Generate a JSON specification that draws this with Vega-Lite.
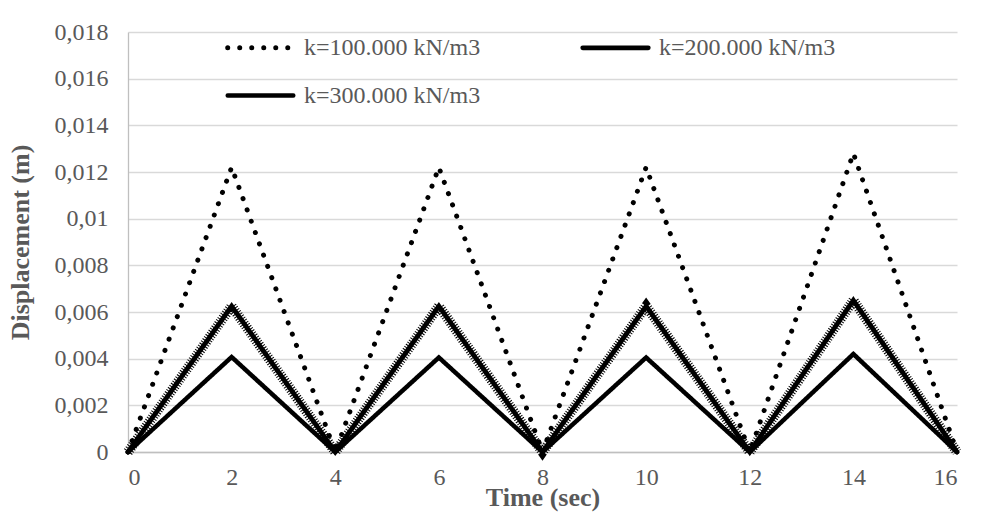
{
  "$schema": "https://vega.github.io/schema/vega-lite/v6.json",
  "autosize": {"type": "none"},
  "width": 829,
  "height": 420,
  "padding": {"left": 128, "top": 32, "right": 32, "bottom": 60},
  "background": "white",
  "config": {
    "view": {"stroke": null},
    "font": "Liberation Serif",
    "axis": {"labelFont": "Liberation Serif", "titleFont": "Liberation Serif", "labelColor": "#595959", "titleColor": "#595959", "labelFontSize": 24, "titleFontSize": 26, "domainColor": "#bfbfbf", "gridColor": "#d9d9d9", "gridWidth": 1.3, "domainWidth": 1.3, "ticks": false}
  },
  "data": {"values": [
    {"t": 0, "d": 0, "s": "k=100.000 kN/m3"},
    {"t": 2, "d": 0.0122, "s": "k=100.000 kN/m3"},
    {"t": 4, "d": 0, "s": "k=100.000 kN/m3"},
    {"t": 6, "d": 0.0122, "s": "k=100.000 kN/m3"},
    {"t": 8, "d": 0, "s": "k=100.000 kN/m3"},
    {"t": 10, "d": 0.0122, "s": "k=100.000 kN/m3"},
    {"t": 12, "d": 0, "s": "k=100.000 kN/m3"},
    {"t": 14, "d": 0.0128, "s": "k=100.000 kN/m3"},
    {"t": 16, "d": 0, "s": "k=100.000 kN/m3"},
    {"t": 0, "d": 0, "s": "k=200.000 kN/m3"},
    {"t": 2, "d": 0.00625, "s": "k=200.000 kN/m3"},
    {"t": 4, "d": 0, "s": "k=200.000 kN/m3"},
    {"t": 6, "d": 0.00625, "s": "k=200.000 kN/m3"},
    {"t": 8, "d": 0, "s": "k=200.000 kN/m3"},
    {"t": 10, "d": 0.00625, "s": "k=200.000 kN/m3"},
    {"t": 12, "d": 0, "s": "k=200.000 kN/m3"},
    {"t": 14, "d": 0.0065, "s": "k=200.000 kN/m3"},
    {"t": 16, "d": 0, "s": "k=200.000 kN/m3"},
    {"t": 0, "d": 0, "s": "k=300.000 kN/m3"},
    {"t": 2, "d": 0.00407, "s": "k=300.000 kN/m3"},
    {"t": 4, "d": 0, "s": "k=300.000 kN/m3"},
    {"t": 6, "d": 0.00405, "s": "k=300.000 kN/m3"},
    {"t": 8, "d": 0, "s": "k=300.000 kN/m3"},
    {"t": 10, "d": 0.00405, "s": "k=300.000 kN/m3"},
    {"t": 12, "d": 0, "s": "k=300.000 kN/m3"},
    {"t": 14, "d": 0.0042, "s": "k=300.000 kN/m3"},
    {"t": 16, "d": 0, "s": "k=300.000 kN/m3"}
  ]},
  "encoding": {
    "x": {"field": "t", "type": "quantitative", "scale": {"domain": [0, 16], "nice": false}, "axis": {"values": [0, 2, 4, 6, 8, 10, 12, 14, 16], "grid": false, "labelPadding": 13, "title": "Time (sec)", "titleFontWeight": "bold", "titlePadding": -5}},
    "y": {"field": "d", "type": "quantitative", "scale": {"domain": [0, 0.018], "nice": false}, "axis": {"values": [0, 0.002, 0.004, 0.006, 0.008, 0.01, 0.012, 0.014, 0.016, 0.018], "labelExpr": "replace(format(datum.value, '.3~f'), '.', ',')", "labelPadding": 20, "title": "Displacement (m)", "titleFontWeight": "bold", "titlePadding": 21}}
  },
  "layer": [
    {
      "transform": [{"filter": "datum.s === 'k=200.000 kN/m3'"}],
      "mark": {"type": "line", "color": "black", "strokeWidth": 10, "strokeDash": [1, 1.6]}
    },
    {
      "mark": {"type": "line", "color": "black", "strokeCap": "round"},
      "encoding": {
        "strokeDash": {"field": "s", "type": "nominal", "scale": {"domain": ["k=100.000 kN/m3", "k=200.000 kN/m3", "k=300.000 kN/m3"], "range": [[0.01, 12], [1, 0], [1, 0]]}, "legend": {"orient": "none", "legendX": 97, "legendY": -20, "direction": "horizontal", "columns": 2, "title": null, "symbolType": "stroke", "symbolSize": 4300, "symbolStrokeColor": "black", "symbolStrokeWidth": 4.5, "labelFont": "Liberation Serif", "labelFontSize": 24, "labelColor": "#595959", "labelOffset": 8, "columnPadding": 92, "rowPadding": -20, "labelLimit": 300, "encode": {"symbols": {"update": {"strokeCap": {"value": "round"}}}}}},
        "strokeWidth": {"field": "s", "type": "nominal", "scale": {"domain": ["k=100.000 kN/m3", "k=200.000 kN/m3", "k=300.000 kN/m3"], "range": [5, 4.5, 3]}, "legend": null}
      }
    }
  ]
}
